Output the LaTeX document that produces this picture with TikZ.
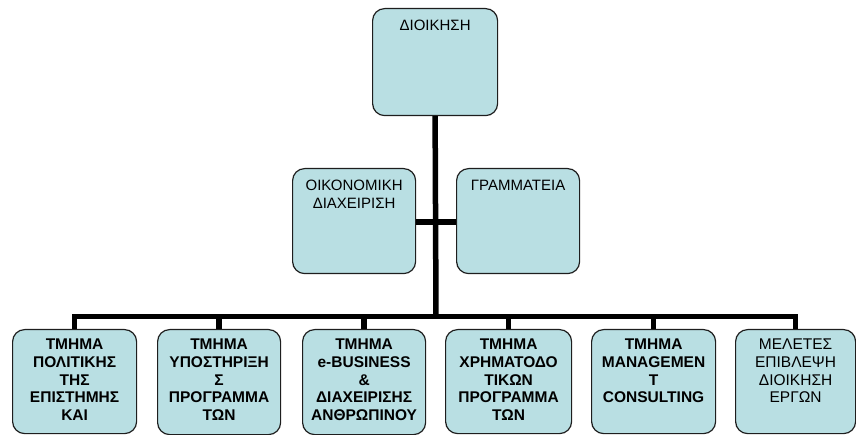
\documentclass[tikz,border=0pt]{standalone}
\usepackage{fontspec}
\setmainfont{Liberation Sans}
\definecolor{boxfill}{RGB}{185,223,227}
\definecolor{boxline}{RGB}{30,30,30}
\begin{document}
\begin{tikzpicture}[x=1pt,y=-1pt,
  box/.style={draw=boxline, line width=1.2pt, fill=boxfill, rounded corners=12pt,
    minimum width=#1, minimum height=105pt, inner sep=0pt, anchor=north west},
  box/.default=123pt,
  lbl/.style={anchor=north, inner sep=0pt, align=center, font=\fontsize{15}{18}\selectfont},
  blbl/.style={lbl, font=\fontsize{15.5}{17.6}\selectfont\bfseries},
  rlbl/.style={lbl, font=\fontsize{15.5}{17.6}\selectfont},
  conn/.style={line width=5.5pt, draw=black}]
\useasboundingbox (0,0) rectangle (856,435);
% boxes
\node[box=125pt, minimum height=107pt] (top) at (372,8) {};
\node[box] (ml) at (292,168) {};
\node[box] (mr) at (456,168) {};
\node[box=124pt, minimum height=104pt] (b1) at (12,329) {};
\node[box] (b2) at (157,329) {};
\node[box] (b3) at (302,329) {};
\node[box=126pt, minimum height=104pt] (b4) at (445,329) {};
\node[box=124pt, minimum height=104pt] (b5) at (591,329) {};
\node[box=120pt, minimum height=104pt] (b6) at (735,329) {};
% labels
\node[lbl] (ttop) at ([yshift=-12pt]top.north) {ΔΙΟΙΚΗΣΗ};
\node[lbl] (tml) at ([yshift=-12pt]ml.north) {ΟΙΚΟΝΟΜΙΚΗ\\ΔΙΑΧΕΙΡΙΣΗ};
\node[lbl] (tmr) at ([yshift=-12pt]mr.north) {ΓΡΑΜΜΑΤΕΙΑ};
\node[blbl] (tb1) at ([yshift=-10pt]b1.north) {ΤΜΗΜΑ\\ΠΟΛΙΤΙΚΗΣ\\ΤΗΣ\\ΕΠΙΣΤΗΜΗΣ\\ΚΑΙ};
\node[blbl] (tb2) at ([yshift=-10pt]b2.north) {ΤΜΗΜΑ\\ΥΠΟΣΤΗΡΙΞΗ\\Σ\\ΠΡΟΓΡΑΜΜΑ\\ΤΩΝ};
\node[blbl] (tb3) at ([yshift=-10pt]b3.north) {ΤΜΗΜΑ\\e-BUSINESS\\\&\\ΔΙΑΧΕΙΡΙΣΗΣ\\ΑΝΘΡΩΠΙΝΟΥ};
\node[blbl] (tb4) at ([yshift=-10pt]b4.north) {ΤΜΗΜΑ\\ΧΡΗΜΑΤΟΔΟ\\ΤΙΚΩΝ\\ΠΡΟΓΡΑΜΜΑ\\ΤΩΝ};
\node[blbl] (tb5) at ([yshift=-10pt]b5.north) {ΤΜΗΜΑ\\MANAGEMEN\\T\\CONSULTING};
\node[rlbl] (tb6) at ([yshift=-10pt]b6.north) {ΜΕΛΕΤΕΣ\\ΕΠΙΒΛΕΨΗ\\ΔΙΟΙΚΗΣΗ\\ΕΡΓΩΝ};
% connectors
\coordinate (bus) at (436,316.5);
\coordinate (mid) at (436,222);
\draw[conn] (top.south) -- (bus);
\draw[conn] (ml.east |- mid) -- (mr.west |- mid);
\draw[conn] (b1.north) |- (bus);
\draw[conn] (b6.north) |- (bus);
\foreach \n in {b2,b3,b4,b5} \draw[conn] (\n.north) -- (\n.north |- bus);
\end{tikzpicture}
\end{document}
